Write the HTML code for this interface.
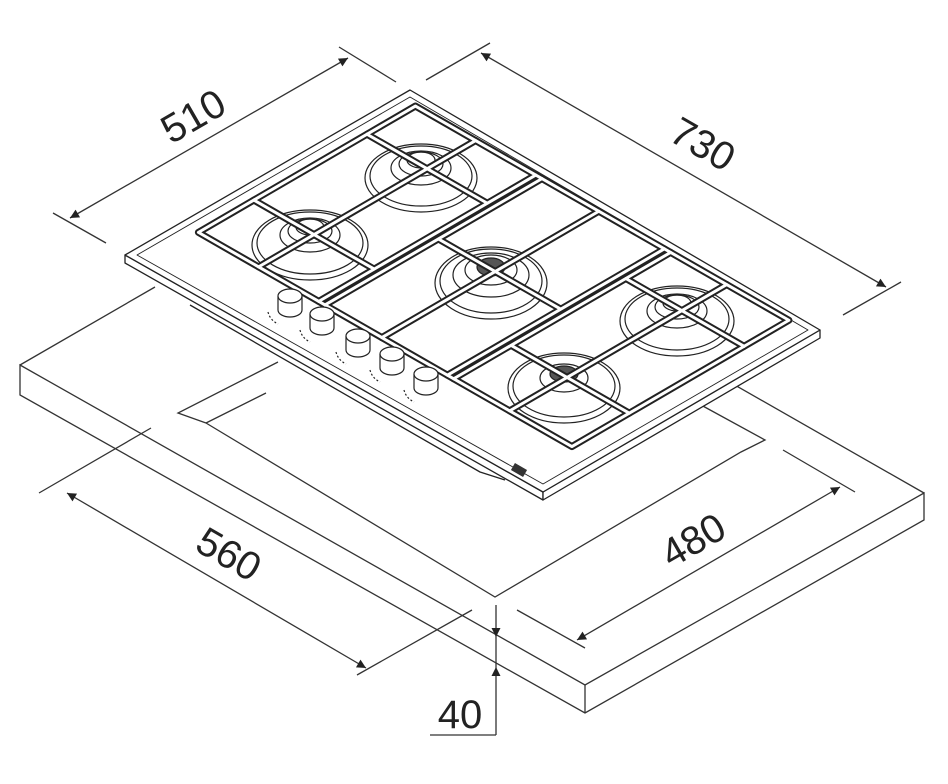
<!DOCTYPE html>
<html><head><meta charset="utf-8"><style>
html,body{margin:0;padding:0;background:#fff;width:948px;height:784px;overflow:hidden}
svg{display:block}
text{font-family:"Liberation Sans",sans-serif;font-size:40px;fill:#222}
</style></head><body>
<svg width="948" height="784" viewBox="0 0 948 784" xmlns="http://www.w3.org/2000/svg">
<defs>
<marker id="a" viewBox="0 0 10 10" refX="10" refY="5" markerWidth="14" markerHeight="9" orient="auto-start-reverse" markerUnits="userSpaceOnUse"><path d="M0,0 L10,5 L0,10 z" fill="#222"/></marker>
</defs>
<g stroke="#333" stroke-width="1.3" fill="none">
<polygon points="20,365 585,685 924,493 924,520 585,713 20,395" fill="#fff"/>
<line x1="585" y1="685" x2="585" y2="713"/>
<line x1="20" y1="365" x2="155" y2="287"/>
<line x1="924" y1="493" x2="712" y2="372"/>
<polyline points="278,362 178,413 206,423"/>
<polyline points="206,423 495,597 741,452 765,440 701,405"/>
<line x1="206" y1="423" x2="266" y2="393"/>
<line x1="53" y1="213" x2="106" y2="243"/>
<line x1="339" y1="47" x2="396" y2="82"/>
<line x1="70" y1="218" x2="348" y2="58" marker-start="url(#a)" marker-end="url(#a)"/>
<line x1="426" y1="80" x2="490" y2="43"/>
<line x1="843" y1="315" x2="901" y2="282"/>
<line x1="481" y1="53" x2="886" y2="287" marker-start="url(#a)" marker-end="url(#a)"/>
<line x1="39" y1="493" x2="151" y2="428"/>
<line x1="357" y1="675" x2="472" y2="610"/>
<line x1="67" y1="493" x2="366" y2="668" marker-start="url(#a)" marker-end="url(#a)"/>
<line x1="783" y1="450" x2="855" y2="492"/>
<line x1="517" y1="610" x2="585" y2="648"/>
<line x1="840" y1="487" x2="577" y2="640" marker-start="url(#a)" marker-end="url(#a)"/>
<line x1="496" y1="605" x2="496" y2="637" marker-end="url(#a)"/>
<line x1="496" y1="637" x2="496" y2="667"/>
<line x1="496" y1="735" x2="496" y2="667" marker-end="url(#a)"/>
<line x1="430" y1="735" x2="496" y2="735"/>
</g>
<text transform="translate(200,128) rotate(-30)" text-anchor="middle">510</text>
<text transform="translate(696,156) rotate(30)" text-anchor="middle">730</text>
<text transform="translate(222,566) rotate(30)" text-anchor="middle">560</text>
<text transform="translate(700,552) rotate(-30)" text-anchor="middle">480</text>
<text x="460" y="728" text-anchor="middle">40</text>

<g stroke="#222" stroke-width="1.3" fill="#fff" stroke-linejoin="round">
<polyline points="190,305 480,472 505,480" fill="none"/>
<polygon points="125,255 543,492 543,500 125,263"/>
<polygon points="543,492 820,330 820,338 543,500"/>
<polygon points="410,90 820,330 543,492 125,255"/>
<polygon points="410,97 808,330 543,484 137,255" fill="none" stroke-width="0.9"/>
</g>
<g stroke="#222" stroke-width="1.2" fill="none">
<g transform="translate(421,170)"><ellipse rx="56" ry="34" cy="8"/><ellipse rx="51" ry="30" cy="6"/><ellipse rx="30" ry="17" cy="-2"/><ellipse rx="22" ry="12" cy="-6"/><ellipse rx="14" ry="8" cy="-10"/></g>
<g transform="translate(310,237)"><ellipse rx="58" ry="35" cy="8"/><ellipse rx="53" ry="31" cy="6"/><ellipse rx="30" ry="17" cy="-2"/><ellipse rx="22" ry="12" cy="-6"/><ellipse rx="14" ry="8" cy="-10"/></g>
<g transform="translate(491,273)"><ellipse rx="56" ry="36" cy="10"/><ellipse rx="51" ry="32" cy="8"/><ellipse rx="38" ry="22" cy="2"/><ellipse rx="26" ry="15" cy="-3"/><ellipse rx="14" ry="9" cy="-6" fill="#555"/></g>
<g transform="translate(677,313)"><ellipse rx="57" ry="35" cy="8"/><ellipse rx="52" ry="31" cy="6"/><ellipse rx="30" ry="17" cy="-2"/><ellipse rx="22" ry="12" cy="-6"/><ellipse rx="14" ry="8" cy="-10"/></g>
<g transform="translate(564,380)"><ellipse rx="56" ry="35" cy="8"/><ellipse rx="51" ry="31" cy="6"/><ellipse rx="24" ry="14" cy="-2"/><ellipse rx="14" ry="8" cy="-6" fill="#555"/></g>
</g>
<g transform="matrix(0.415,0.238,-0.28,0.163,410,90)" fill="none" stroke-linejoin="round" stroke-linecap="round">
<g stroke="#222" stroke-width="7">
<path vector-effect="non-scaling-stroke" d="M40,40 L940,40 L940,815 L40,815 Z"/>
<path vector-effect="non-scaling-stroke" d="M330,40 L330,815 M345,40 L345,815 M640,40 L640,815 M655,40 L655,815 M40,213 L330,213 M40,617 L330,617 M345,410 L640,410 M655,200 L940,200 M655,610 L940,610 M185,40 L185,815 M482,40 L482,815 M790,40 L790,815"/>
</g>
<g stroke="#fff" stroke-width="3">
<path vector-effect="non-scaling-stroke" d="M40,40 L940,40 L940,815 L40,815 Z"/>
<path vector-effect="non-scaling-stroke" d="M330,40 L330,815 M345,40 L345,815 M640,40 L640,815 M655,40 L655,815 M40,213 L330,213 M40,617 L330,617 M345,410 L640,410 M655,200 L940,200 M655,610 L940,610 M185,40 L185,815 M482,40 L482,815 M790,40 L790,815"/>
</g>
</g>
<g stroke="#222" stroke-width="1.2" fill="#fff">
<g transform="translate(290,302)"><path d="M-12,-6 L-12,8 A12,7 0 0 0 12,8 L12,-6"/><ellipse cy="-6" rx="12" ry="7"/><path d="M-22,10 q2,8 10,12" fill="none" stroke-dasharray="2 2"/></g>
<g transform="translate(322,320)"><path d="M-12,-6 L-12,8 A12,7 0 0 0 12,8 L12,-6"/><ellipse cy="-6" rx="12" ry="7"/><path d="M-22,10 q2,8 10,12" fill="none" stroke-dasharray="2 2"/></g>
<g transform="translate(358,342)"><path d="M-12,-6 L-12,8 A12,7 0 0 0 12,8 L12,-6"/><ellipse cy="-6" rx="12" ry="7"/><path d="M-22,10 q2,8 10,12" fill="none" stroke-dasharray="2 2"/></g>
<g transform="translate(392,360)"><path d="M-12,-6 L-12,8 A12,7 0 0 0 12,8 L12,-6"/><ellipse cy="-6" rx="12" ry="7"/><path d="M-22,10 q2,8 10,12" fill="none" stroke-dasharray="2 2"/></g>
<g transform="translate(426,380)"><path d="M-12,-6 L-12,8 A12,7 0 0 0 12,8 L12,-6"/><ellipse cy="-6" rx="12" ry="7"/><path d="M-22,10 q2,8 10,12" fill="none" stroke-dasharray="2 2"/></g>
</g>
<rect x="512" y="466" width="14" height="8" fill="#333" transform="rotate(30 519 470)"/>
</svg>
</body></html>
